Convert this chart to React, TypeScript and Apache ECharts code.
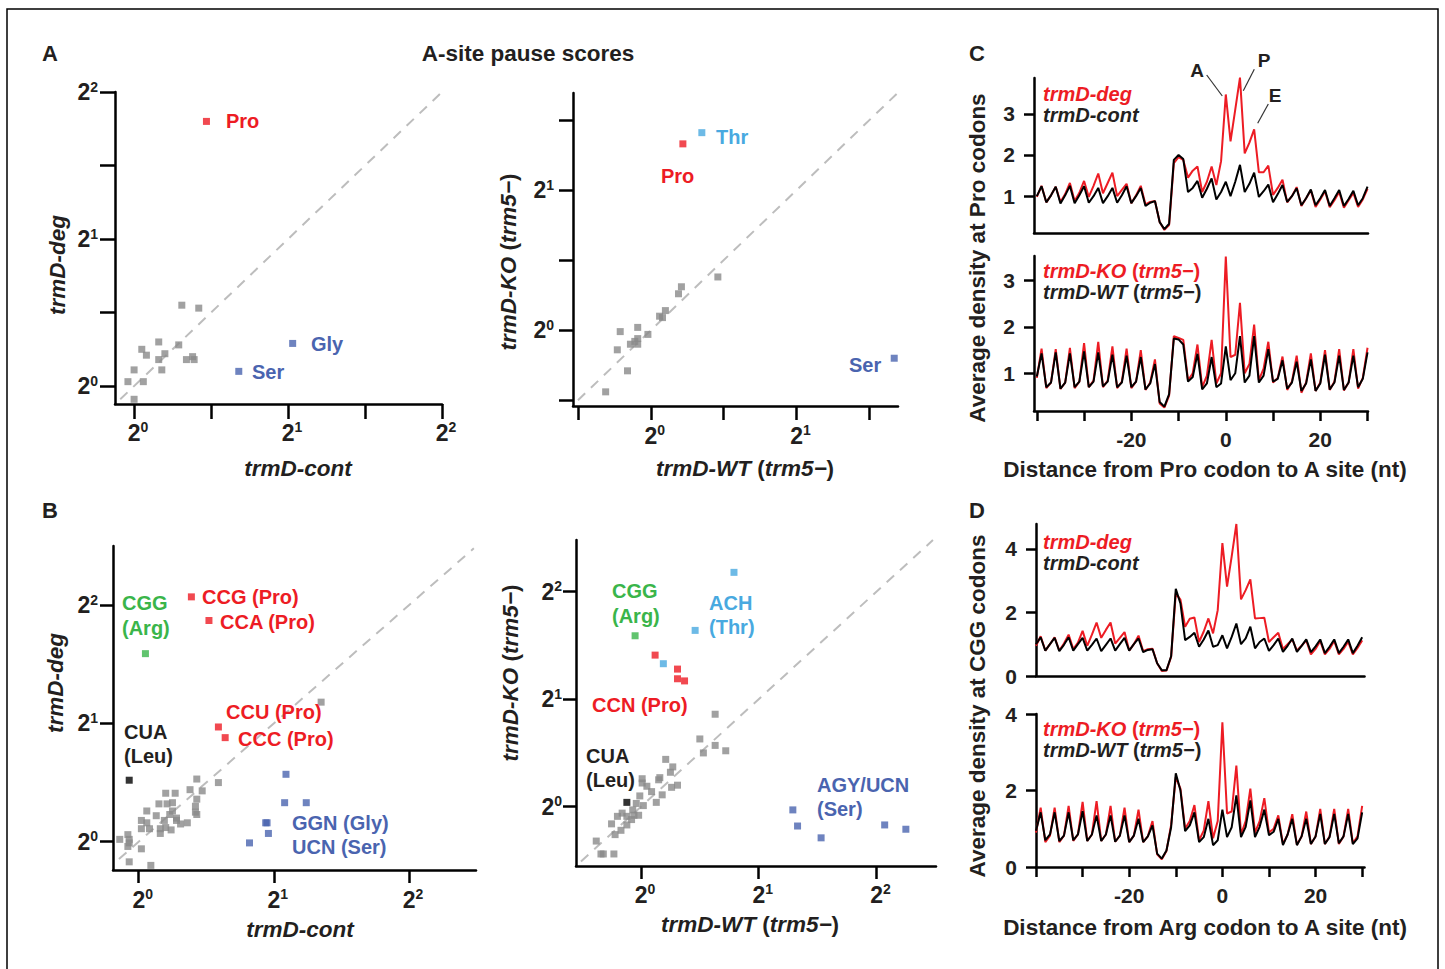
import React, { useEffect, useRef } from 'react';
import * as echarts from 'echarts';

const FONT = '"Liberation Sans", Arial, Helvetica, sans-serif';
const RED = '#ED1C24';
const GREEN = '#3AB54A';
const LBLUE = '#48A9E0';
const DBLUE = '#4A64AF';
const GRAY = '#898989';
const INK = '#231F20';
const DASH = '#BDBDBD';

// ---------- Panel A (log2 pause scores: [x, y]) ----------
const aLeftPro = [[0.47, 1.8]];
const aLeftGlySer = [[1.03, 0.29], [0.68, 0.1]];
const aLeftGray = [
  [0.31, 0.55], [0.42, 0.53], [0.16, 0.3], [0.05, 0.25], [0.08, 0.21], [0.2, 0.22], [0.16, 0.18], [0.29, 0.28],
  [0.34, 0.18], [0.38, 0.2], [0.39, 0.18], [0.18, 0.11], [0.0, 0.11], [-0.04, 0.03], [0.06, 0.03], [0.0, -0.09],
];
const aRightPro = [[0.22, 1.33]];
const aRightThr = [[0.35, 1.41]];
const aRightSer = [[1.67, -0.2]];
const aRightGray = [
  [0.46, 0.38], [0.21, 0.31], [0.19, 0.26], [0.1, 0.14], [0.06, 0.1], [0.08, 0.09], [-0.02, -0.03], [-0.09, 0.02],
  [-0.21, -0.01], [-0.09, -0.06], [-0.11, -0.08], [-0.14, -0.1], [-0.09, -0.1], [-0.23, -0.14], [-0.16, -0.29], [-0.31, -0.44],
];

// ---------- Panel B ----------
const bLeftPro = [[0.39, 2.07], [0.52, 1.87], [0.59, 0.97], [0.64, 0.88]];
const bLeftArg = [[0.05, 1.59]];
const bLeftLeu = [[-0.07, 0.52]];
const bLeftGlySer = [[1.09, 0.57], [1.08, 0.33], [1.24, 0.33], [0.95, 0.16], [0.94, 0.16], [0.96, 0.07], [0.82, -0.01]];
const bLeftGray = [
  [0.43, 0.53], [0.59, 0.5], [0.38, 0.44], [0.47, 0.43], [0.2, 0.41], [0.27, 0.41], [0.15, 0.32], [0.21, 0.32],
  [0.25, 0.33], [0.43, 0.36], [0.42, 0.3], [0.06, 0.26], [0.02, 0.18], [0.13, 0.22], [0.19, 0.18], [0.25, 0.26],
  [0.28, 0.2], [0.43, 0.23], [0.36, 0.16], [0.31, 0.15], [0.02, 0.11], [0.08, 0.11], [0.16, 0.11], [0.2, 0.12],
  [0.24, 0.1], [0.16, 0.07], [-0.08, 0.06], [-0.14, 0.02], [-0.07, -0.01], [-0.08, -0.04], [0.02, -0.06], [-0.07, -0.17],
  [0.09, -0.2], [0.06, 0.16], [0.23, 0.23], [0.28, 0.18], [0.42, 0.25], [-0.07, 0.02], [1.35, 1.18],
];
const bRightThr = [[0.79, 2.18], [0.46, 1.64], [0.19, 1.33]];
const bRightPro = [[0.12, 1.41], [0.31, 1.28], [0.31, 1.19], [0.37, 1.17]];
const bRightArg = [[-0.05, 1.59]];
const bRightLeu = [[-0.12, 0.04]];
const bRightSer = [[1.29, -0.03], [1.33, -0.18], [1.53, -0.29], [2.07, -0.17], [2.25, -0.21]];
const bRightGray = [
  [0.63, 0.86], [0.5, 0.63], [0.63, 0.57], [0.72, 0.52], [0.53, 0.5], [0.21, 0.44], [0.27, 0.37], [0.25, 0.32],
  [0.16, 0.27], [0.01, 0.26], [0.05, 0.19], [0.09, 0.14], [-0.01, 0.1], [0.18, 0.11], [0.26, 0.18], [0.31, 0.2],
  [0.13, 0.04], [0.02, 0.01], [-0.04, 0.03], [-0.07, -0.03], [-0.02, -0.08], [-0.08, -0.12], [-0.12, -0.17], [-0.2, -0.09],
  [-0.25, -0.16], [-0.17, -0.22], [-0.22, -0.26], [-0.38, -0.32], [-0.32, -0.44], [-0.34, -0.44], [-0.23, -0.44], [-0.16, -0.06],
  [-0.06, -0.08], [0.15, 0.25], [0.01, 0.22], [-0.12, -0.09],
];

// ---------- Panels C and D (distance in nt, average density) ----------
const positions = [
  -40, -39, -38, -37, -36, -35, -34, -33, -32, -31,
  -30, -29, -28, -27, -26, -25, -24, -23, -22, -21,
  -20, -19, -18, -17, -16, -15, -14, -13, -12, -11,
  -10, -9, -8, -7, -6, -5, -4, -3, -2, -1,
  0, 1, 2, 3, 4, 5, 6, 7, 8, 9,
  10, 11, 12, 13, 14, 15, 16, 17, 18, 19,
  20, 21, 22, 23, 24, 25, 26, 27, 28, 29,
  30,
];
const cTopCont = [
  1.0, 1.24, 0.85, 1.02, 1.23, 0.82, 1.02, 1.25, 0.83, 1.02,
  1.24, 0.84, 1.0, 1.2, 0.83, 1.0, 1.2, 0.84, 1.02, 1.24,
  0.83, 1.0, 1.2, 0.76, 0.84, 0.88, 0.37, 0.2, 0.33, 1.88,
  2.0, 1.9, 1.1, 1.2, 1.37, 0.96, 1.18, 1.43, 0.92, 1.1,
  1.35, 1.0, 1.35, 1.76, 1.1, 1.3, 1.57, 0.98, 1.12, 1.28,
  0.85, 1.05, 1.27, 0.86, 1.0, 1.19, 0.78, 0.95, 1.16, 0.78,
  0.95, 1.15, 0.76, 0.95, 1.15, 0.76, 0.93, 1.13, 0.78, 0.95,
  1.23,
];
const cTopDeg = [
  0.98, 1.25, 0.85, 1.02, 1.23, 0.86, 1.05, 1.32, 0.88, 1.08,
  1.37, 0.98, 1.25, 1.55, 1.07, 1.32, 1.57, 1.0, 1.15, 1.3,
  0.83, 1.02, 1.25, 0.8, 0.86, 0.88, 0.37, 0.18, 0.3, 1.8,
  1.95, 1.88, 1.45, 1.62, 1.72, 1.1, 1.35, 1.72, 1.27, 1.85,
  3.47, 2.33, 3.1, 3.88, 2.04, 2.3, 2.62, 1.58, 1.58, 1.74,
  1.03, 1.2, 1.4, 0.85, 1.0, 1.22, 0.76, 0.95, 1.14, 0.74,
  0.92, 1.12, 0.73, 0.9, 1.1, 0.72, 0.9, 1.08, 0.74, 0.92,
  1.18,
];
const cBotWT = [
  0.93, 1.43, 0.7, 0.8, 1.45, 0.67, 0.8, 1.43, 0.7, 0.82,
  1.47, 0.7, 0.82, 1.45, 0.72, 0.82, 1.4, 0.7, 0.8, 1.38,
  0.7, 0.82, 1.35, 0.65, 0.78, 1.2, 0.38, 0.28, 0.55, 1.75,
  1.73, 1.62, 0.82, 0.92, 1.42, 0.65, 0.78, 1.35, 0.7, 0.78,
  1.58, 0.85, 1.0, 1.8, 0.8, 0.95, 1.8, 0.8, 0.95, 1.52,
  0.82, 0.88, 1.28, 0.67, 0.8, 1.25, 0.62, 0.78, 1.3, 0.62,
  0.78, 1.4, 0.65, 0.8, 1.38, 0.64, 0.8, 1.38, 0.7, 0.88,
  1.45,
];
const cBotKO = [
  0.9, 1.53, 0.68, 0.8, 1.52, 0.66, 0.8, 1.55, 0.68, 0.82,
  1.65, 0.7, 0.84, 1.68, 0.7, 0.84, 1.58, 0.68, 0.82, 1.53,
  0.68, 0.82, 1.5, 0.64, 0.8, 1.3, 0.35, 0.26, 0.52, 1.8,
  1.76, 1.72, 0.85, 1.0, 1.62, 0.7, 0.95, 1.72, 0.78, 1.0,
  3.52, 1.35, 1.4, 2.52, 1.0, 1.2, 2.05, 0.85, 1.1, 1.68,
  0.8, 0.9, 1.36, 0.64, 0.82, 1.38, 0.58, 0.8, 1.43, 0.62,
  0.8, 1.5, 0.64, 0.82, 1.52, 0.63, 0.8, 1.52, 0.67, 0.9,
  1.55,
];
const dTopCont = [
  1.0, 1.22, 0.8, 1.0, 1.2, 0.78, 0.98, 1.22, 0.8, 1.0,
  1.2, 0.8, 0.98, 1.18, 0.78, 0.98, 1.18, 0.8, 1.0, 1.2,
  0.8, 1.0, 1.18, 0.75, 0.82, 0.84, 0.4, 0.18, 0.18, 0.62,
  2.74, 2.28, 1.13, 1.23, 1.36, 0.92, 1.15, 1.43, 0.92, 0.97,
  1.28, 0.87, 1.23, 1.65, 1.0, 1.18, 1.55, 0.87, 1.07, 1.18,
  0.79, 0.97, 1.18, 0.76, 0.95, 1.18, 0.76, 0.95, 1.15, 0.75,
  0.93, 1.15, 0.72, 0.92, 1.15, 0.72, 0.92, 1.15, 0.72, 0.95,
  1.22,
];
const dTopDeg = [
  0.95, 1.25, 0.8, 1.0, 1.22, 0.8, 1.02, 1.3, 0.85, 1.05,
  1.42, 0.95, 1.3, 1.68, 1.2, 1.45, 1.68, 1.02, 1.2, 1.38,
  0.8, 1.0, 1.27, 0.78, 0.84, 0.86, 0.4, 0.16, 0.17, 0.6,
  2.6, 2.4, 1.55, 1.8, 1.84, 1.07, 1.4, 1.81, 1.34, 2.07,
  4.18, 2.81, 3.76, 4.78, 2.41, 2.7, 3.04, 1.81, 1.82, 1.83,
  1.07, 1.22, 1.36, 0.85, 1.0, 1.15, 0.8, 0.95, 1.12, 0.68,
  0.85, 1.1, 0.68, 0.85, 1.1, 0.68, 0.85, 1.08, 0.68, 0.88,
  1.12,
];
const dBotWT = [
  0.95, 1.43, 0.7, 0.85, 1.43, 0.68, 0.82, 1.43, 0.7, 0.85,
  1.46, 0.68, 0.85, 1.35, 0.68, 0.85, 1.35, 0.66, 0.82, 1.35,
  0.65, 0.82, 1.26, 0.65, 0.8, 1.09, 0.35, 0.22, 0.43, 1.04,
  2.45, 2.0, 0.94, 1.09, 1.43, 0.65, 0.78, 1.26, 0.57, 0.7,
  1.5, 0.78, 1.04, 1.87, 0.78, 1.05, 1.74, 0.78, 1.05, 1.5,
  0.83, 0.92, 1.26, 0.57, 0.85, 1.26, 0.57, 0.8, 1.26, 0.6,
  0.8, 1.39, 0.6, 0.78, 1.39, 0.62, 0.8, 1.39, 0.6, 0.75,
  1.43,
];
const dBotKO = [
  0.9, 1.55, 0.65, 0.82, 1.55, 0.65, 0.82, 1.6, 0.68, 0.85,
  1.7, 0.68, 0.85, 1.72, 0.68, 0.85, 1.6, 0.66, 0.82, 1.55,
  0.65, 0.82, 1.5, 0.65, 0.8, 1.2, 0.33, 0.2, 0.42, 1.1,
  2.35, 2.05, 1.0, 1.2, 1.62, 0.7, 0.95, 1.72, 0.75, 1.2,
  3.78, 1.4, 1.45, 2.65, 0.85, 1.2, 2.05, 0.9, 1.2, 1.8,
  0.9, 1.0, 1.35, 0.6, 0.85, 1.38, 0.58, 0.8, 1.45, 0.6,
  0.8, 1.52, 0.6, 0.8, 1.52, 0.6, 0.8, 1.52, 0.62, 0.8,
  1.6,
];

// tick values
const halfPow = [0, 0.5, 1, 1.5, 2];
const halfPowR = [-0.5, 0, 0.5, 1, 1.5];
const pow012 = [0, 1, 2];
const pow01 = [0, 1];
const ntTicks = [-40, -30, -20, -10, 0, 10, 20, 30];
const ntLabels = [-20, 0, 20];

const supFmt = (v: number) => `{b|2}{s|${v}}`;
const richBase = {
  b: { fontSize: 23, fontWeight: 'bold', fontFamily: FONT, color: INK, lineHeight: 25 },
  s: { fontSize: 14, fontWeight: 'bold', fontFamily: FONT, color: INK, verticalAlign: 'top', lineHeight: 15 },
};
const richX = {
  b: { ...richBase.b, padding: [0, 0, 0, 8] },
  s: richBase.s,
};

function sAxis(gi: number, min: number, max: number, ticks: number[], labels: number[], tickLen: number, margin: number, isX: boolean) {
  return {
    gridIndex: gi,
    type: 'value',
    min,
    max,
    axisLine: { show: true, onZero: false, lineStyle: { color: '#000', width: 2.5 } },
    axisTick: { show: true, customValues: ticks, length: tickLen, lineStyle: { color: '#000', width: 2.5 } },
    axisLabel: { show: true, customValues: labels, margin, formatter: supFmt, rich: isX ? richX : richBase },
    splitLine: { show: false },
  };
}

function lAxisX(gi: number, min: number, max: number, showTicks: boolean) {
  return {
    gridIndex: gi,
    type: 'value',
    min,
    max,
    axisLine: { show: true, onZero: false, lineStyle: { color: '#000', width: 2.5 } },
    axisTick: { show: showTicks, customValues: ntTicks, length: 10, lineStyle: { color: '#000', width: 2.5 } },
    axisLabel: {
      show: showTicks, customValues: ntLabels, margin: 18,
      fontSize: 21, fontWeight: 'bold', fontFamily: FONT, color: INK,
    },
    splitLine: { show: false },
  };
}
function lAxisY(gi: number, min: number, max: number, ticks: number[]) {
  return {
    gridIndex: gi,
    type: 'value',
    min,
    max,
    axisLine: { show: true, onZero: false, lineStyle: { color: '#000', width: 2.5 } },
    axisTick: { show: true, customValues: ticks, length: 10, lineStyle: { color: '#000', width: 2.5 } },
    axisLabel: {
      show: true, customValues: ticks, margin: 19,
      fontSize: 21, fontWeight: 'bold', fontFamily: FONT, color: INK,
    },
    splitLine: { show: false },
  };
}

function pts(gi: number, data: number[][], color: string) {
  return {
    type: 'scatter', xAxisIndex: gi, yAxisIndex: gi, data, symbol: 'rect', symbolSize: 7,
    itemStyle: { color }, z: 3, silent: true,
  };
}
function diag(gi: number, lo: number, hi: number) {
  return {
    type: 'line', xAxisIndex: gi, yAxisIndex: gi, data: [[lo, lo], [hi, hi]], symbol: 'none',
    lineStyle: { color: DASH, width: 2, type: [10, 8] }, z: 1, silent: true,
  };
}
function trace(gi: number, vals: number[], color: string, z: number) {
  return {
    type: 'line', xAxisIndex: gi, yAxisIndex: gi, data: positions.map((p, i) => [p, vals[i]]),
    symbol: 'none', lineStyle: { color, width: 2 }, z, silent: true,
  };
}

type TOpt = { fill?: string; size?: number; italic?: boolean; align?: string; rot?: number; rich?: any; weight?: string };
function T(x: number, y: number, text: string, o: TOpt = {}) {
  return {
    type: 'text', x, y, rotation: o.rot || 0, z: 100, silent: true,
    style: {
      text, fill: o.fill || INK, fontSize: o.size || 20, fontWeight: o.weight || 'bold',
      fontStyle: o.italic ? 'italic' : 'normal', fontFamily: FONT,
      align: o.align || 'left', verticalAlign: 'middle', rich: o.rich,
    },
  };
}
function richTrm(fill: string, size: number) {
  return {
    i: { fontStyle: 'italic', fontWeight: 'bold', fontSize: size, fontFamily: FONT, fill, color: fill },
    n: { fontStyle: 'normal', fontWeight: 'bold', fontSize: size, fontFamily: FONT, fill, color: fill },
  };
}
const KO = '{i|trmD-KO }{n|(}{i|trm5\u2212}{n|)}';
const WT = '{i|trmD-WT }{n|(}{i|trm5\u2212}{n|)}';
const L = (x1: number, y1: number, x2: number, y2: number) => ({
  type: 'line', z: 100, silent: true, shape: { x1, y1, x2, y2 }, style: { stroke: '#333', lineWidth: 1.2 },
});

function buildOption() {
  const grids = [
    { left: 115, top: 92, width: 327, height: 312 },
    { left: 573, top: 93, width: 325, height: 313 },
    { left: 113, top: 546, width: 363, height: 324 },
    { left: 576, top: 540, width: 360, height: 326 },
    { left: 1034, top: 78, width: 334, height: 155 },
    { left: 1034, top: 256, width: 334, height: 155 },
    { left: 1036, top: 524, width: 328.5, height: 152 },
    { left: 1036, top: 714, width: 328.5, height: 153 },
  ].map((g) => ({ ...g, containLabel: false, outerBoundsMode: 'none' }));

  const xAxis = [
    sAxis(0, -0.124, 2, halfPow, pow012, 15, 16, true),
    sAxis(1, -0.534, 1.696, halfPowR, pow01, 14, 17, true),
    sAxis(2, -0.19, 2.496, pow012, pow012, 13, 17, true),
    sAxis(3, -0.552, 2.506, pow012, pow012, 13, 16, true),
    lAxisX(4, -40.6, 30.1, false),
    lAxisX(5, -40.6, 30.1, true),
    lAxisX(6, -40, 30.5, false),
    lAxisX(7, -40, 30.5, true),
  ];
  const yAxis = [
    sAxis(0, -0.122, 2, halfPow, pow012, 15, 17, false),
    sAxis(1, -0.541, 1.693, halfPowR, pow01, 14, 19, false),
    sAxis(2, -0.239, 2.5, pow012, pow012, 13, 15, false),
    sAxis(3, -0.552, 2.481, pow012, pow012, 13, 14, false),
    lAxisY(4, 0.105, 3.87, [1, 2, 3]),
    lAxisY(5, 0.186, 3.53, [1, 2, 3]),
    lAxisY(6, 0, 4.78, [0, 2, 4]),
    lAxisY(7, 0, 4, [0, 2, 4]),
  ];

  const series = [
    diag(0, -0.09, 2), pts(0, aLeftGray, GRAY), pts(0, aLeftPro, RED), pts(0, aLeftGlySer, DBLUE),
    diag(1, -0.5, 1.69), pts(1, aRightGray, GRAY), pts(1, aRightPro, RED), pts(1, aRightThr, LBLUE), pts(1, aRightSer, DBLUE),
    diag(2, -0.146, 2.48), pts(2, bLeftGray, GRAY), pts(2, bLeftPro, RED), pts(2, bLeftArg, GREEN), pts(2, bLeftLeu, '#000'), pts(2, bLeftGlySer, DBLUE),
    diag(3, -0.51, 2.48), pts(3, bRightGray, GRAY), pts(3, bRightPro, RED), pts(3, bRightThr, LBLUE), pts(3, bRightArg, GREEN), pts(3, bRightLeu, '#000'), pts(3, bRightSer, DBLUE),
    trace(4, cTopDeg, RED, 2), trace(4, cTopCont, '#000', 3),
    trace(5, cBotKO, RED, 2), trace(5, cBotWT, '#000', 3),
    trace(6, dTopDeg, RED, 2), trace(6, dTopCont, '#000', 3),
    trace(7, dBotKO, RED, 2), trace(7, dBotWT, '#000', 3),
  ];

  const ROT = Math.PI / 2;
  const TS = 22.5;
  const graphic = [
    { type: 'rect', z: 100, silent: true, shape: { x: 7, y: 9, width: 1431, height: 975 }, style: { fill: 'none', stroke: '#000', lineWidth: 1.5 } },
    T(50, 53, 'A', { size: 22, align: 'center' }),
    T(50, 510, 'B', { size: 22, align: 'center' }),
    T(977, 53, 'C', { size: 22, align: 'center' }),
    T(977, 510, 'D', { size: 22, align: 'center' }),
    T(528, 53, 'A-site pause scores', { size: TS, align: 'center' }),
    // A axis titles
    T(57, 265, 'trmD-deg', { size: TS, italic: true, align: 'center', rot: ROT }),
    T(298, 468, 'trmD-cont', { size: TS, italic: true, align: 'center' }),
    T(508, 262, KO, { align: 'center', rot: ROT, rich: richTrm(INK, TS) }),
    T(745, 468, WT, { align: 'center', rich: richTrm(INK, TS) }),
    // A labels
    T(226, 121, 'Pro', { fill: RED }),
    T(311, 344, 'Gly', { fill: DBLUE }),
    T(252, 372, 'Ser', { fill: DBLUE }),
    T(716, 137, 'Thr', { fill: LBLUE }),
    T(661, 176, 'Pro', { fill: RED }),
    T(849, 365, 'Ser', { fill: DBLUE }),
    // B axis titles
    T(55, 683, 'trmD-deg', { size: TS, italic: true, align: 'center', rot: ROT }),
    T(300, 929, 'trmD-cont', { size: TS, italic: true, align: 'center' }),
    T(510, 673, KO, { align: 'center', rot: ROT, rich: richTrm(INK, TS) }),
    T(750, 924, WT, { align: 'center', rich: richTrm(INK, TS) }),
    // B left labels
    T(122, 603, 'CGG', { fill: GREEN }),
    T(122, 628, '(Arg)', { fill: GREEN }),
    T(202, 597, 'CCG (Pro)', { fill: RED }),
    T(220, 622, 'CCA (Pro)', { fill: RED }),
    T(226, 712, 'CCU (Pro)', { fill: RED }),
    T(238, 739, 'CCC (Pro)', { fill: RED }),
    T(124, 732, 'CUA', { fill: INK }),
    T(124, 756, '(Leu)', { fill: INK }),
    T(292, 823, 'GGN (Gly)', { fill: DBLUE }),
    T(292, 847, 'UCN (Ser)', { fill: DBLUE }),
    // B right labels
    T(612, 591, 'CGG', { fill: GREEN }),
    T(612, 616, '(Arg)', { fill: GREEN }),
    T(709, 603, 'ACH', { fill: LBLUE }),
    T(709, 627, '(Thr)', { fill: LBLUE }),
    T(592, 705, 'CCN (Pro)', { fill: RED }),
    T(586, 756, 'CUA', { fill: INK }),
    T(586, 780, '(Leu)', { fill: INK }),
    T(817, 785, 'AGY/UCN', { fill: DBLUE }),
    T(817, 809, '(Ser)', { fill: DBLUE }),
    // C
    T(1043, 94, 'trmD-deg', { size: 20, italic: true, fill: RED }),
    T(1043, 115, 'trmD-cont', { size: 20, italic: true, fill: INK }),
    T(1043, 271, KO, { rich: richTrm(RED, 20) }),
    T(1043, 292, WT, { rich: richTrm(INK, 20) }),
    T(1197, 70, 'A', { size: 19, align: 'center' }),
    T(1264, 60, 'P', { size: 19, align: 'center' }),
    T(1275, 95, 'E', { size: 19, align: 'center' }),
    L(1206.7, 75, 1222.3, 96),
    L(1254.3, 69.3, 1243.3, 90.7),
    L(1268.3, 104, 1257.7, 123.3),
    T(977, 258, 'Average density at Pro codons', { size: TS, align: 'center', rot: ROT }),
    T(1205, 469, 'Distance from Pro codon to A site (nt)', { size: TS, align: 'center' }),
    // D
    T(1043, 542, 'trmD-deg', { size: 20, italic: true, fill: RED }),
    T(1043, 563, 'trmD-cont', { size: 20, italic: true, fill: INK }),
    T(1043, 729, KO, { rich: richTrm(RED, 20) }),
    T(1043, 750, WT, { rich: richTrm(INK, 20) }),
    T(977, 706, 'Average density at CGG codons', { size: TS, align: 'center', rot: ROT }),
    T(1205, 927, 'Distance from Arg codon to A site (nt)', { size: TS, align: 'center' }),
  ];

  return {
    animation: false,
    backgroundColor: '#fff',
    grid: grids,
    xAxis,
    yAxis,
    series,
    graphic,
  };
}

export default function App() {
  const ref = useRef<HTMLDivElement>(null);
  useEffect(() => {
    if (!ref.current) return;
    const chart = echarts.init(ref.current, null, { renderer: 'svg' });
    chart.setOption(buildOption() as any);
    return () => chart.dispose();
  }, []);
  return (
    <div
      ref={ref}
      style={{ position: 'absolute', left: 0, top: 0, width: 1445, height: 969, background: '#fff' }}
    />
  );
}
